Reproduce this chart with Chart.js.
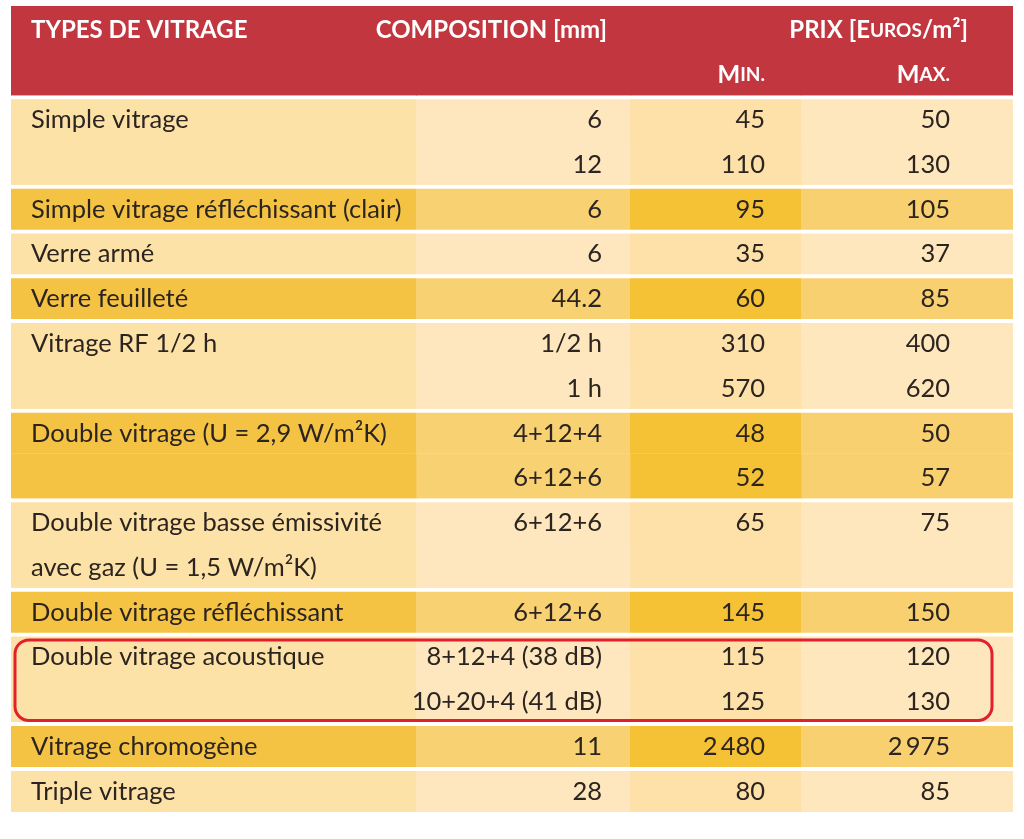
<!DOCTYPE html>
<html>
<head>
<meta charset="utf-8">
<script src="https://cdn.jsdelivr.net/npm/chart.js@4"></script>
<style>
  html, body { margin: 0; padding: 0; background: #fff; }
  #wrap { width: 1024px; height: 839px; }
</style>
</head>
<body>
<div id="wrap"><canvas id="myChart" width="1024" height="839"></canvas></div>
<script>
// table content, one entry per printed line
var headers = ['TYPES DE VITRAGE', 'COMPOSITION [mm]', 'PRIX [Euros/m²]'];
var subHeaders = ['Min.', 'Max.'];
var types = ['Simple vitrage', '', 'Simple vitrage réfléchissant (clair)', 'Verre armé', 'Verre feuilleté',
  'Vitrage RF 1/2 h', '', 'Double vitrage (U = 2,9 W/m²K)', '', 'Double vitrage basse émissivité',
  'avec gaz (U = 1,5 W/m²K)', 'Double vitrage réfléchissant', 'Double vitrage acoustique', '',
  'Vitrage chromogène', 'Triple vitrage'];
var compositions = ['6', '12', '6', '6', '44.2', '1/2 h', '1 h', '4+12+4', '6+12+6', '6+12+6', '',
  '6+12+6', '8+12+4 (38 dB)', '10+20+4 (41 dB)', '11', '28'];
var minPrices = [45, 110, 95, 35, 60, 310, 570, 48, 52, 65, null, 145, 115, 125, 2480, 80];
var maxPrices = [50, 130, 105, 37, 85, 400, 620, 50, 57, 75, null, 150, 120, 130, 2975, 85];
var groups = [0, 0, 1, 2, 3, 4, 4, 5, 5, 6, 6, 7, 8, 8, 9, 10];
var highlightGroup = 8;

// layout
var colEdges = [0, 405, 619, 790, 1002];
var HEAD = 2;
var red = '#c1363f';
var lightCols = ['#fde2a7', '#fee7be', '#fde1a9', '#fee7bd'];
var darkCols = ['#f5c343', '#f8d172', '#f5c236', '#f8d06f'];
var ink = '#2b2420';
var bodyFont = '25.5px Lato';

var labels = [];
for (var i = 0; i < HEAD + types.length; i++) labels.push('L' + i);

function isGroupStart(idx) {
  var r = idx - HEAD;
  if (r < 0) return false;
  return r === 0 || groups[r] !== groups[r - 1];
}

function cellColor(col) {
  return function (ctx) {
    var r = ctx.dataIndex - HEAD;
    if (r < 0) return red;
    return groups[r] % 2 === 0 ? lightCols[col] : darkCols[col];
  };
}

var datasets = [];
for (var c = 0; c < 4; c++) {
  var d = [];
  for (var k = 0; k < labels.length; k++) d.push([colEdges[c], colEdges[c + 1]]);
  datasets.push({
    data: d,
    backgroundColor: cellColor(c),
    borderColor: '#ffffff',
    borderSkipped: false,
    borderWidth: function (ctx) {
      return isGroupStart(ctx.dataIndex) ? { top: 4, bottom: 0, left: 0, right: 0 } : 0;
    },
    barPercentage: 1,
    categoryPercentage: 1,
    grouped: false
  });
}

function fmt(v) {
  if (v === null) return '';
  return String(v).replace(/\B(?=(\d{3})+(?!\d))/g, '\u2009');
}

// draw text made of [text, font] pieces, left or right aligned at x
function drawPieces(ctx, pieces, x, y, align) {
  var w = 0, i;
  for (i = 0; i < pieces.length; i++) { ctx.font = pieces[i][1]; w += ctx.measureText(pieces[i][0]).width; }
  var sx = align === 'right' ? x - w : x;
  ctx.textAlign = 'left';
  for (i = 0; i < pieces.length; i++) {
    ctx.font = pieces[i][1];
    ctx.fillText(pieces[i][0], sx, y);
    sx += ctx.measureText(pieces[i][0]).width;
  }
}

var tableText = {
  id: 'tableText',
  afterDatasetsDraw: function (chart) {
    var ctx = chart.ctx;
    var xs = chart.scales.x, ys = chart.scales.y;
    var px = function (v) { return xs.getPixelForValue(v); };
    ctx.save();
    ctx.textBaseline = 'middle';

    // header
    var hb = 'bold 24px Lato', hs = 'bold 19px Lato';
    var y0 = ys.getPixelForValue(0) + 2, y1 = ys.getPixelForValue(1) + 2;
    ctx.fillStyle = '#ffffff';
    drawPieces(ctx, [[headers[0], hb]], px(colEdges[0]) + 20, y0, 'left');
    drawPieces(ctx, [[headers[1], hb]], px(colEdges[2]) - 23, y0, 'right');
    drawPieces(ctx, [['PRIX [E', hb], ['UROS', hs], ['/m²]', hb]], px(colEdges[4]) - 45, y0, 'right');
    drawPieces(ctx, [[subHeaders[0].charAt(0), hb], [subHeaders[0].slice(1).toUpperCase(), hs]], px(colEdges[3]) - 36, y1, 'right');
    drawPieces(ctx, [[subHeaders[1].charAt(0), hb], [subHeaders[1].slice(1).toUpperCase(), hs]], px(colEdges[4]) - 63, y1, 'right');

    // body
    ctx.fillStyle = ink;
    for (var r = 0; r < types.length; r++) {
      var y = ys.getPixelForValue(HEAD + r) + 2;
      drawPieces(ctx, [[types[r], bodyFont]], px(colEdges[0]) + 20, y, 'left');
      drawPieces(ctx, [[compositions[r], bodyFont]], px(colEdges[2]) - 28, y, 'right');
      drawPieces(ctx, [[fmt(minPrices[r]), bodyFont]], px(colEdges[3]) - 36, y, 'right');
      drawPieces(ctx, [[fmt(maxPrices[r]), bodyFont]], px(colEdges[4]) - 63, y, 'right');
    }

    // red outline round the highlighted group
    var first = groups.indexOf(highlightGroup), last = groups.lastIndexOf(highlightGroup);
    var half = ys.getPixelForValue(1) - ys.getPixelForValue(0);
    var top = ys.getPixelForValue(HEAD + first) - half / 2 + 7;
    var bot = ys.getPixelForValue(HEAD + last) + half / 2 - 2;
    var left = px(colEdges[0]) + 4, right = px(colEdges[4]) - 21;
    ctx.beginPath();
    ctx.roundRect(left, top, right - left, bot - top, 14);
    ctx.lineWidth = 3;
    ctx.strokeStyle = '#e2202b';
    ctx.stroke();
    ctx.restore();
  }
};

function createChart() {
  var ctx = document.getElementById('myChart').getContext('2d');
  new Chart(ctx, {
    type: 'bar',
    data: { labels: labels, datasets: datasets },
    options: {
      indexAxis: 'y',
      responsive: false,
      animation: false,
      layout: { padding: { left: 11, right: 11, top: 6, bottom: 27 } },
      scales: {
        x: { type: 'linear', min: colEdges[0], max: colEdges[4], display: false },
        y: { display: false }
      },
      plugins: { legend: { display: false }, tooltip: { enabled: false } }
    },
    plugins: [tableText]
  });
}
createChart();
</script>
</body>
</html>
